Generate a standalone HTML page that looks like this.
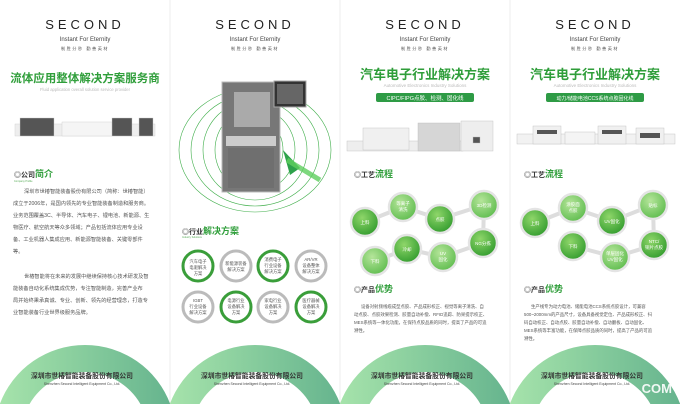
<!DOCTYPE html>
<html><head><meta charset="utf-8"><style>
html,body{margin:0;padding:0;background:#fff;width:680px;height:404px;overflow:hidden;}
svg{display:block;font-family:"Liberation Sans","Noto Sans CJK SC",sans-serif;overflow:hidden;}
</style></head><body>
<svg width="680" height="404" viewBox="0 0 680 404" xmlns="http://www.w3.org/2000/svg">
<defs>
<linearGradient id="ag" x1="0" x2="1" y1="0" y2="0"><stop offset="0" stop-color="#a6e3ab"/><stop offset="1" stop-color="#66b48e"/></linearGradient>
<radialGradient id="gc" cx="0.4" cy="0.35" r="0.7"><stop offset="0" stop-color="#8fd66a"/><stop offset="1" stop-color="#2f9a2c"/></radialGradient>
<radialGradient id="lc" cx="0.4" cy="0.35" r="0.7"><stop offset="0" stop-color="#b5e59a"/><stop offset="1" stop-color="#5cbb4c"/></radialGradient>
<g id="logo">
<text x="85" y="29" text-anchor="middle" font-size="13" letter-spacing="4" fill="#222">SECOND</text>
<text x="85" y="41" text-anchor="middle" font-size="6" fill="#444">Instant For Eternity</text>
<text x="85" y="50" text-anchor="middle" font-size="4.2" fill="#555" letter-spacing="1.5">制胜分秒  勤善英材</text>
</g>
<g id="arc">
<path d="M -0.2,404 A91 91 0 0 1 170.2,404 L 140.4,404 A64 64 0 0 0 29.6,404 Z" fill="url(#ag)"/>
<text x="82" y="378" text-anchor="middle" font-size="6.8" font-weight="bold" fill="#333">深圳市世椿智能装备股份有限公司</text>
<text x="82" y="385" text-anchor="middle" font-size="3.5" fill="#444">Shenzhen Second Intelligent Equipment Co., Ltd.</text>
</g>
</defs>
<line x1="170" y1="0" x2="170" y2="404" stroke="#eee"/>
<line x1="340" y1="0" x2="340" y2="404" stroke="#eee"/>
<line x1="510" y1="0" x2="510" y2="404" stroke="#eee"/>
<use href="#logo" x="0"/><use href="#logo" x="170"/><use href="#logo" x="340"/><use href="#logo" x="510"/>
<use href="#arc" x="0"/><use href="#arc" x="170"/><use href="#arc" x="340"/><use href="#arc" x="510"/>

<!-- Panel 1 -->
<text x="85" y="82" text-anchor="middle" font-size="11.5" font-weight="bold" fill="#2f9e3a">流体应用整体解决方案服务商</text>
<text x="85" y="91" text-anchor="middle" font-size="4.2" fill="#bbb">Fluid application overall solution service provider</text>
<g stroke="#ccc" stroke-width="0.4">
<rect x="15" y="124" width="140" height="12" fill="#eee"/>
<rect x="20" y="118" width="34" height="18" fill="#555"/><rect x="62" y="122" width="50" height="14" fill="#f5f5f5"/>
<rect x="112" y="118" width="20" height="18" fill="#555"/><rect x="139" y="118" width="14" height="18" fill="#555"/>
</g>
<text x="14" y="177" font-size="7" font-weight="bold" fill="#333">◎公司<tspan fill="#2f9e3a" font-size="9">简介</tspan></text>
<text x="14" y="182" font-size="2.5" fill="#5a5">Company Profile</text>
<g font-size="5.2" fill="#555">
<text x="24" y="193">深圳市世椿智能装备股份有限公司（简称：世椿智能）</text>
<text x="13" y="205">成立于2006年，是国内领先的专业智能装备制造和服务商。</text>
<text x="13" y="217">业务范围覆盖3C、半导体、汽车电子、锂电池、新能源、生</text>
<text x="13" y="229">物医疗、航空航天等众多领域；产品包括流体应用专业设</text>
<text x="13" y="241">备、工业机器人集成应用、新能源智能装备、关键零部件</text>
<text x="13" y="253">等。</text>
<text x="24" y="278">世椿智能将在未来的发展中继续保持核心技术研发及智</text>
<text x="13" y="290">能装备自动化系统集成优势，专注智能制造，完善产业布</text>
<text x="13" y="302">局并始终秉承真诚、专业、创新、领先的经营理念，打造专</text>
<text x="13" y="314">业智能装备行业世界级服务品牌。</text>
</g>

<!-- Panel 2 -->
<g fill="none" stroke="#3fae4a" stroke-width="0.6">
<ellipse cx="255" cy="150" rx="28" ry="32"/><ellipse cx="255" cy="150" rx="40" ry="42"/>
<ellipse cx="255" cy="150" rx="52" ry="50"/><ellipse cx="255" cy="150" rx="64" ry="56"/>
<ellipse cx="255" cy="150" rx="76" ry="62"/>
</g>
<rect x="222" y="82" width="58" height="110" fill="#777" stroke="#bbb"/>
<rect x="234" y="92" width="36" height="35" fill="#aaa"/>
<rect x="226" y="136" width="50" height="10" fill="#ccc"/>
<rect x="228" y="148" width="46" height="40" fill="#6f6f6f"/>
<rect x="274" y="81" width="32" height="26" fill="#333" stroke="#aaa"/>
<rect x="277" y="84" width="26" height="20" fill="#666"/>
<polygon points="283,150 300,168 290,175" fill="#2da24a"/>
<line x1="287" y1="160" x2="320" y2="180" stroke="#5ecf5e" stroke-width="5" opacity="0.8"/>
<text x="182" y="234" font-size="7" font-weight="bold" fill="#333">◎行业<tspan fill="#2f9e3a" font-size="9">解决方案</tspan></text>
<text x="182" y="238" font-size="2.5" fill="#5a5">Industry Solutions</text>
<g stroke-width="3" fill="#fff">
<circle cx="198" cy="266" r="15" stroke="#3a9e3a"/><circle cx="236" cy="266" r="15" stroke="#bbb"/>
<circle cx="273" cy="266" r="15" stroke="#3a9e3a"/><circle cx="311" cy="266" r="15" stroke="#bbb"/>
<circle cx="198" cy="307" r="15" stroke="#bbb"/><circle cx="236" cy="307" r="15" stroke="#3a9e3a"/>
<circle cx="273" cy="307" r="15" stroke="#bbb"/><circle cx="311" cy="307" r="15" stroke="#3a9e3a"/>
</g>
<g font-size="4.3" fill="#555" text-anchor="middle">
<text x="198" y="263">汽车电子</text><text x="198" y="269">电驱解决</text><text x="198" y="275">方案</text>
<text x="236" y="265">新能源装备</text><text x="236" y="271">解决方案</text>
<text x="273" y="261">消费电子</text><text x="273" y="267">行业设备</text><text x="273" y="273">解决方案</text>
<text x="311" y="261">AR/VR</text><text x="311" y="267">设备整体</text><text x="311" y="273">解决方案</text>
<text x="198" y="302">IGBT</text><text x="198" y="308">行业设备</text><text x="198" y="314">解决方案</text>
<text x="236" y="302">电源行业</text><text x="236" y="308">设备解决</text><text x="236" y="314">方案</text>
<text x="273" y="302">家电行业</text><text x="273" y="308">设备解决</text><text x="273" y="314">方案</text>
<text x="311" y="302">医疗器械</text><text x="311" y="308">设备解决</text><text x="311" y="314">方案</text>
</g>

<!-- Panel 3 -->
<text x="425" y="79" text-anchor="middle" font-size="13" font-weight="bold" fill="#2f9e3a">汽车电子行业解决方案</text>
<text x="425" y="87" text-anchor="middle" font-size="4.5" fill="#bbb">Automotive Electronics Industry Solutions</text>
<rect x="376" y="93" width="98" height="9" rx="2" fill="#2e9b45"/>
<text x="425" y="100" text-anchor="middle" font-size="5.5" fill="#fff">CIPC/FIPG点胶、检测、固化线</text>
<g stroke="#bbb" stroke-width="0.4">
<rect x="347" y="141" width="116" height="10" fill="#eee"/>
<rect x="363" y="128" width="46" height="22" fill="#f0f0f0"/>
<rect x="418" y="123" width="42" height="28" fill="#d6d6d6"/>
<rect x="461" y="121" width="32" height="30" fill="#eee"/>
<rect x="473" y="137" width="7" height="6" fill="#555"/>
</g>
<text x="354" y="177" font-size="7" font-weight="bold" fill="#333">◎工艺<tspan fill="#2f9e3a" font-size="9">流程</tspan></text>
<g stroke="#ddd" stroke-width="4" fill="none">
<polyline points="365,222 403,207 440,219 484,205 483,243 443,257 407,249 375,261"/>
</g>
<g stroke="#e4e4e4" stroke-width="2.5">
<circle cx="365" cy="222" r="14" fill="url(#gc)"/><circle cx="403" cy="207" r="14" fill="url(#lc)"/>
<circle cx="440" cy="219" r="14" fill="url(#gc)"/><circle cx="484" cy="205" r="14" fill="url(#lc)"/>
<circle cx="483" cy="243" r="14" fill="url(#gc)"/><circle cx="443" cy="257" r="14" fill="url(#lc)"/>
<circle cx="407" cy="249" r="14" fill="url(#gc)"/><circle cx="375" cy="261" r="14" fill="url(#lc)"/>
</g>
<g font-size="4.5" fill="#fff" text-anchor="middle">
<text x="365" y="224">上料</text><text x="403" y="205">等离子</text><text x="403" y="211">清洗</text>
<text x="440" y="221">点胶</text><text x="484" y="207">3D检测</text><text x="483" y="245">NG分拣</text>
<text x="443" y="255">UV</text><text x="443" y="261">固化</text><text x="407" y="251">冷却</text><text x="375" y="263">下料</text>
</g>
<text x="354" y="292" font-size="7" font-weight="bold" fill="#333">◎产品<tspan fill="#2f9e3a" font-size="9">优势</tspan></text>
<g font-size="4.4" fill="#555">
<text x="361" y="308">设备对射频线缆成型点胶、产品成形校正、视觉等离子清洗、自</text>
<text x="354" y="316">动点胶、点胶效果检测、胶量自动补偿、RFID追踪、防呆提示校正、</text>
<text x="354" y="324">MES系统等一体化功能，在保持点胶品质的同时，提高了产品的可追</text>
<text x="354" y="332">溯性。</text>
</g>

<!-- Panel 4 -->
<text x="595" y="79" text-anchor="middle" font-size="13" font-weight="bold" fill="#2f9e3a">汽车电子行业解决方案</text>
<text x="595" y="87" text-anchor="middle" font-size="4.5" fill="#bbb">Automotive Electronics Industry Solutions</text>
<rect x="546" y="93" width="98" height="9" rx="2" fill="#2e9b45"/>
<text x="595" y="100" text-anchor="middle" font-size="5" fill="#fff">动力/储能电池CCS系统点胶固化线</text>
<g stroke="#bbb" stroke-width="0.4">
<rect x="517" y="134" width="158" height="10" fill="#f2f2f2"/>
<rect x="533" y="126" width="28" height="18" fill="#f0f0f0"/>
<rect x="565" y="132" width="30" height="12" fill="#f4f4f4"/>
<rect x="598" y="126" width="28" height="18" fill="#f0f0f0"/>
<rect x="636" y="128" width="28" height="16" fill="#f0f0f0"/>
</g>
<g fill="#555"><rect x="537" y="130" width="20" height="4"/><rect x="602" y="130" width="20" height="4"/><rect x="640" y="133" width="20" height="5"/></g>
<text x="524" y="177" font-size="7" font-weight="bold" fill="#333">◎工艺<tspan fill="#2f9e3a" font-size="9">流程</tspan></text>
<g stroke="#ddd" stroke-width="4" fill="none">
<polyline points="535,223 573,208 612,221 653,205 654,245 615,257 573,246"/>
</g>
<g stroke="#e4e4e4" stroke-width="2.5">
<circle cx="535" cy="223" r="14" fill="url(#gc)"/><circle cx="573" cy="208" r="14" fill="url(#lc)"/>
<circle cx="612" cy="221" r="14" fill="url(#gc)"/><circle cx="653" cy="205" r="14" fill="url(#lc)"/>
<circle cx="654" cy="245" r="14" fill="url(#gc)"/><circle cx="615" cy="257" r="14" fill="url(#lc)"/>
<circle cx="573" cy="246" r="14" fill="url(#gc)"/>
</g>
<g font-size="4.5" fill="#fff" text-anchor="middle">
<text x="535" y="225">上料</text><text x="573" y="206">涂胶面</text><text x="573" y="212">点胶</text>
<text x="612" y="223">UV固化</text><text x="653" y="207">贴标</text>
<text x="654" y="243">NTC/</text><text x="654" y="249">铜片点胶</text>
<text x="615" y="255">单层固化</text><text x="615" y="261">UV固化</text><text x="573" y="248">下料</text>
</g>
<text x="524" y="292" font-size="7" font-weight="bold" fill="#333">◎产品<tspan fill="#2f9e3a" font-size="9">优势</tspan></text>
<g font-size="4.4" fill="#555">
<text x="531" y="308">生产线专为动力电池、储能电池CCS系统点胶设计，可兼容</text>
<text x="524" y="316">500~2000mm的产品尺寸，设备具备视觉定位、产品成形校正、扫</text>
<text x="524" y="324">码自动校正、自动点胶、胶量自动补偿、自动翻板、自动固化、</text>
<text x="524" y="332">MES系统等丰富功能，在保障点胶品质的同时，提高了产品的可追</text>
<text x="524" y="340">溯性。</text>
</g>
<text x="672" y="393" text-anchor="end" font-size="13" font-weight="bold" fill="#fff" opacity="0.9">.COM</text>
</svg>
</body></html>
